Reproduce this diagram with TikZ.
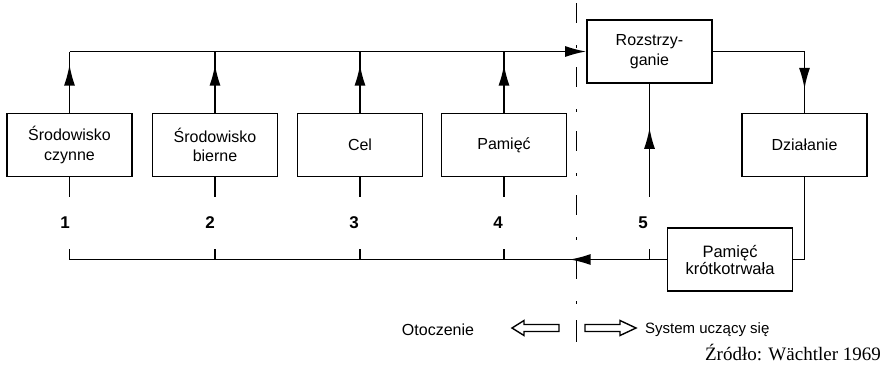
\documentclass[tikz,border=0pt]{standalone}
\usepackage{fontspec}
\setmainfont{Liberation Sans}
\newfontfamily\srcfont{Liberation Serif}
\usetikzlibrary{arrows.meta,decorations.markings}
\tikzset{
  blk/.style={draw, line width=1.7pt, minimum width=125pt, minimum height=63pt, inner sep=0pt, align=center, font=\fontsize{16}{19.5}\selectfont},
  conn/.style={line width=1.5pt},
  tipmark/.style={postaction={decorate}, decoration={markings, mark=at position #1 with {\arrow{Latex[length=21pt,width=11pt]}}}},
  num/.style={font=\bfseries\fontsize{17}{19}\selectfont, inner sep=0pt, minimum height=52pt},
  sepline/.style={line width=1pt, dash pattern=on 20pt off 22pt on 3pt off 19pt},
  lbl/.style={font=\fontsize{15}{18}\selectfont, inner sep=0pt},
  hollow/.style={line width=1.4pt, line join=miter}
}
\begin{document}
\begin{tikzpicture}[x=1pt,y=-1pt]
\useasboundingbox (0,0) rectangle (882,370);
% boxes
\node[blk] (b1) at (69.5,145) {Środowisko\\czynne};
\node[blk] (b2) at (215,145) {Środowisko\\bierne};
\node[blk] (b3) at (360,145) {Cel};
\node[blk] (b4) at (504,145) {Pamięć};
\node[blk] (R) at (649.5,51.5) {Rozstrzy-\\ganie};
\node[blk] (D) at (804.5,145) {Działanie};
\node[blk, font=\fontsize{16.5}{17}\selectfont] (P) at (730,259.5) {Pamięć\\krótkotrwała};
% numbers
\node[num] (n1) at (65,223) {1};
\node[num] (n2) at (210,223) {2};
\node[num] (n3) at (354,223) {3};
\node[num] (n4) at (498,223) {4};
\node[num] (n5) at (643,223) {5};
% top line
\draw[conn, -{Latex[length=21pt,width=11pt]}] (b1.north |- R.west) -- (R.west);
\foreach \b in {b1,b2,b3,b4}{
  \draw[conn, tipmark=48pt] (\b.north) -- (\b.north |- R.west);
  \draw[conn] (\b.south) -- (\b.south |- n1.north);
}
\foreach \b in {b2,b3,b4}{
  \draw[conn] (\b.south |- n1.south) -- (\b.south |- P.west);
}
% decision -> action
\draw[conn, tipmark=129pt] (R.east) -| (D.north);
\draw[conn] (D.south) |- (P.east);
% line 5
\draw[conn, tipmark=69pt] (R.south |- n5.north) -- (R.south);
\draw[conn] (R.south |- n5.south) -- (R.south |- P.west);
% bottom line
\draw[conn, tipmark=97pt] (P.west) -- (b1.south |- P.west) -- (b1.south |- n1.south);
% separator
\coordinate (sTop) at (576,3);
\coordinate (sBot) at (576,306);
\draw[sepline] (sTop) -- (sBot);
\coordinate (barT) at (576,320);
\coordinate (barB) at (576,342);
\draw[line width=1pt] (barT) -- (barB);
% legend arrows
\draw[hollow] (512,328) -- (524,320.5) -- (524,324.5) -- (559,324.5) -- (559,331.5) -- (524,331.5) -- (524,335.5) -- cycle;
\draw[hollow] (636,328) -- (620,320.5) -- (620,324.5) -- (585,324.5) -- (585,331.5) -- (620,331.5) -- (620,335.5) -- cycle;
\node[lbl, font=\fontsize{16}{18}\selectfont] (ot) at (438,330) {Otoczenie};
\node[lbl, anchor=west] (sy) at (645,330) {System uczący się};
\node[font=\srcfont\fontsize{19}{22}\selectfont, inner sep=0pt, anchor=east] (src) at (881,352) {Źródło: Wächtler 1969};
\end{tikzpicture}
\end{document}
